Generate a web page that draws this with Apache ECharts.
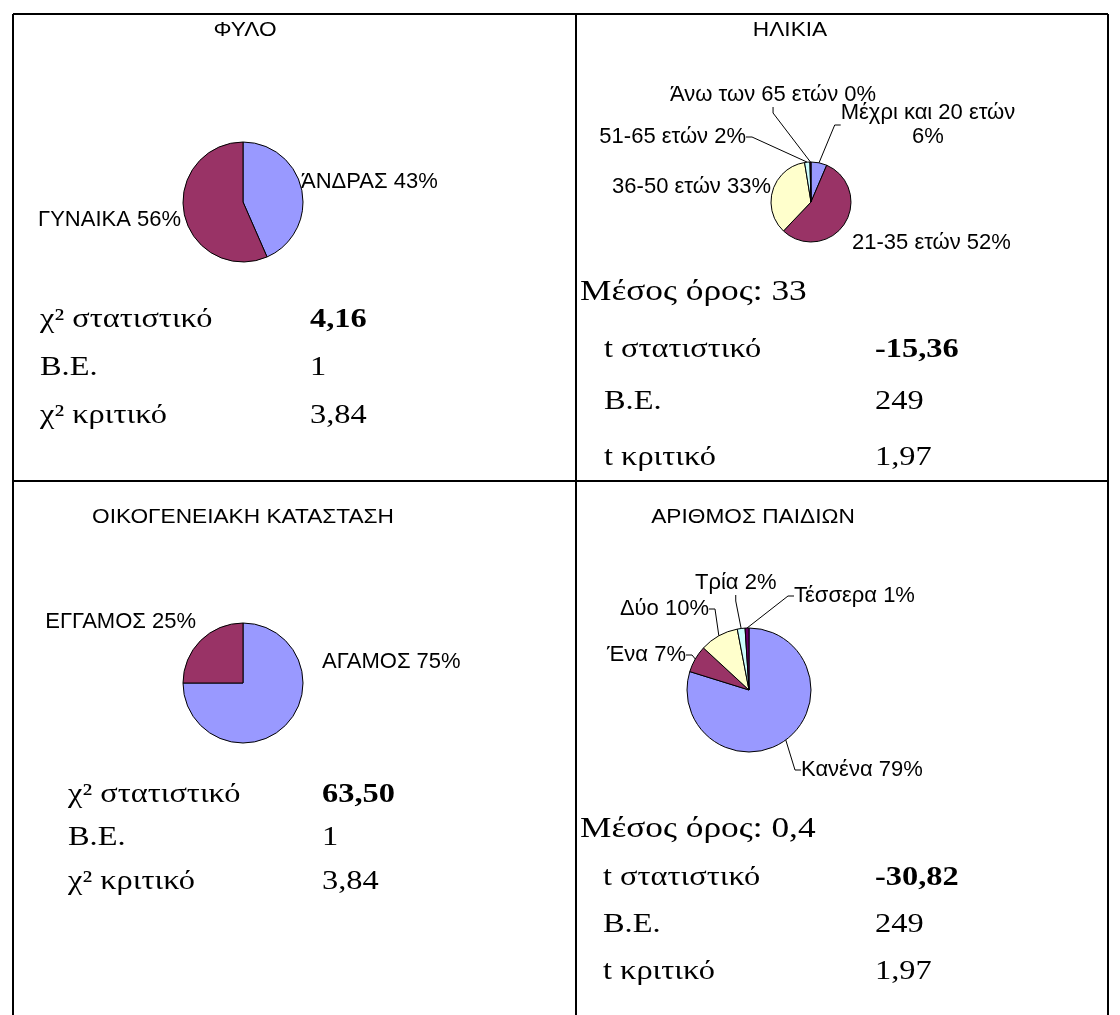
<!DOCTYPE html>
<html><head><meta charset="utf-8">
<script src="https://cdn.jsdelivr.net/npm/echarts@6/dist/echarts.min.js"></script>
<style>html,body{margin:0;padding:0;background:#fff}#c{width:1120px;height:1015px}</style>
</head><body><div id="c"></div>
<script>
// ---------- data ----------
const sexNames = ['ΆΝΔΡΑΣ', 'ΓΥΝΑΙΚΑ'];
const sexPct = [43, 56];
const ageNames = ['Μέχρι και 20 ετών', '21-35 ετών', '36-50 ετών', '51-65 ετών', 'Άνω των 65 ετών'];
const agePct = [6, 52, 33, 2, 0];
const ageValues = [6, 52, 33, 2, 0.4];
const maritalNames = ['ΑΓΑΜΟΣ', 'ΕΓΓΑΜΟΣ'];
const maritalPct = [75, 25];
const childNames = ['Κανένα', 'Ένα', 'Δύο', 'Τρία', 'Τέσσερα'];
const childPct = [79, 7, 10, 2, 1];

const titles = ['ΦΥΛΟ', 'ΗΛΙΚΙΑ', 'ΟΙΚΟΓΕΝΕΙΑΚΗ ΚΑΤΑΣΤΑΣΗ', 'ΑΡΙΘΜΟΣ ΠΑΙΔΙΩΝ'];
const statsSex = [['χ² στατιστικό', '4,16'], ['Β.Ε.', '1'], ['χ² κριτικό', '3,84']];
const statsAge = [['t στατιστικό', '-15,36'], ['Β.Ε.', '249'], ['t κριτικό', '1,97']];
const meanAge = 'Μέσος όρος: 33';
const statsMarital = [['χ² στατιστικό', '63,50'], ['Β.Ε.', '1'], ['χ² κριτικό', '3,84']];
const statsChild = [['t στατιστικό', '-30,82'], ['Β.Ε.', '249'], ['t κριτικό', '1,97']];
const meanChild = 'Μέσος όρος: 0,4';

// ---------- styling / layout ----------
const colors = ['#9999FF', '#993366', '#FFFFCC', '#CCFFFF', '#660066'];
const SANS = '"Liberation Sans", Arial, sans-serif';
const SERIF = '"Liberation Serif", "Times New Roman", serif';
const LBL_SIZE = 22;

// label anchors [x, y, align]
const sexLabelPos = [[301, 182, 'left'], [181, 220, 'right']];
const ageLabelPos = [[928, 125, 'center'], [852, 243, 'left'], [771, 187, 'right'], [746, 137, 'right'], [670, 95, 'left']];
const ageLabelLine = [true, false, false, true, true];
const ageBreak = [true, false, false, false, false];
const maritalLabelPos = [[322, 662, 'left'], [196, 622, 'right']];
const childLabelPos = [[801, 770, 'left'], [686, 655, 'right'], [709, 609, 'right'], [695, 583, 'left'], [794, 596, 'left']];

function pieSeries(names, values, pcts, center, radius, pos, lineShow, brk) {
  return {
    type: 'pie', center: center, radius: radius, startAngle: 90, clockwise: true,
    avoidLabelOverlap: false, silent: true, animation: false,
    data: names.map((n, i) => ({
      name: n, value: values[i],
      itemStyle: { color: colors[i] },
      labelLine: { show: lineShow ? lineShow[i] : false }
    })),
    itemStyle: { borderColor: '#000', borderWidth: 1 },
    label: {
      show: true, position: 'outside', color: '#000',
      fontFamily: SANS, fontSize: LBL_SIZE, lineHeight: 24,
      formatter: p => names[p.dataIndex] + ((brk && brk[p.dataIndex]) ? '\n' : ' ') + pcts[p.dataIndex] + '%'
    },
    labelLine: { show: true, length: 6, length2: 6, lineStyle: { color: '#000', width: 1 } },
    labelLayout: p => {
      const L = pos[p.dataIndex];
      return { x: L[0], y: L[1], align: L[2], verticalAlign: 'middle' };
    },
    emphasis: { disabled: true }
  };
}

const G = [];
function line(x1, y1, x2, y2) {
  G.push({ type: 'line', silent: true, shape: { x1, y1, x2, y2 }, style: { stroke: '#000', lineWidth: 2 } });
}
function text(t, x, y, font, align, sx) {
  G.push({ type: 'text', x: x, y: y, scaleX: sx || 1, silent: true,
    style: { text: t, font: font, fill: '#000', textAlign: align || 'left', textVerticalAlign: 'middle' } });
}
// table grid
line(13, 14, 1108, 14);
line(13, 481, 1108, 481);
line(13, 14, 13, 1015);
line(576, 14, 576, 1015);
line(1108, 14, 1108, 1015);

// titles
const TF = '21px ' + SANS;
text(titles[0], 245, 30, TF, 'center', 1.08);
text(titles[1], 790, 30, TF, 'center', 1.08);
text(titles[2], 243, 517, TF, 'center', 1.08);
text(titles[3], 753, 517, TF, 'center', 1.08);

const SF = '27px ' + SERIF, SB = 'bold 27px ' + SERIF, MF = '28.5px ' + SERIF;
const SX = 1.2;
function statBlock(rows, lx, vx, ys) {
  rows.forEach((r, i) => {
    text(r[0], lx, ys[i], SF, 'left', SX);
    text(r[1], vx, ys[i], i === 0 ? SB : SF, 'left', SX);
  });
}
statBlock(statsSex, 40, 310, [320, 368, 416]);
text(meanAge, 580, 293, MF, 'left', 1.24);
statBlock(statsAge, 604, 875, [350, 402, 458]);
statBlock(statsMarital, 68, 322, [795, 838, 882]);
text(meanChild, 580, 830, MF, 'left', 1.24);
statBlock(statsChild, 603, 875, [878, 925, 972]);

const chart = echarts.init(document.getElementById('c'), null, { renderer: 'canvas' });
chart.setOption({
  backgroundColor: '#fff',
  animation: false,
  graphic: { elements: G },
  series: [
    pieSeries(sexNames, sexPct, sexPct, [243, 202], 60, sexLabelPos, null, null),
    pieSeries(ageNames, ageValues, agePct, [811, 202], 40, ageLabelPos, ageLabelLine, ageBreak),
    pieSeries(maritalNames, maritalPct, maritalPct, [243, 683], 60, maritalLabelPos, null, null),
    pieSeries(childNames, childPct, childPct, [749, 690], 62, childLabelPos, [true, true, true, true, true], null)
  ]
});
</script></body></html>
